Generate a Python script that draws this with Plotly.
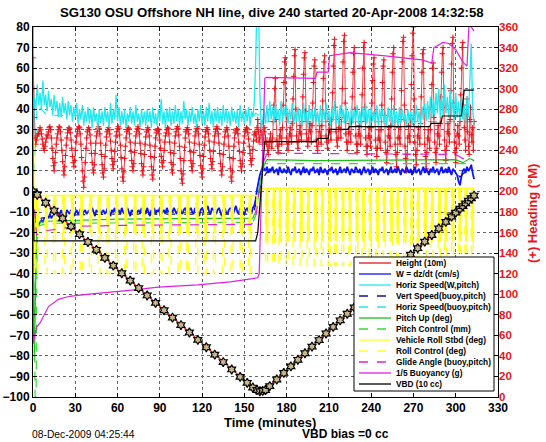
import plotly.graph_objects as go

# ---------------- text ----------------
title_text = "SG130 OSU Offshore NH line, dive 240 started 20-Apr-2008 14:32:58"
xlabel_text = "Time (minutes)"
right_label_text = "(+) Heading (°M)"
date_text = "08-Dec-2009 04:25:44"
bias_text = "VBD bias =0 cc"
x_ticks = [0, 30, 60, 90, 120, 150, 180, 210, 240, 270, 300, 330]

# ---------------- data ----------------
# 1-minute samples
t_min = list(range(0, 314))
horiz_speed_w = [
    18, 46, 40, 52, 42, 48, 40, 54, 42, 47,
    39, 49, 41, 45, 37, 47, 39, 44, 36, 43,
    36, 46, 38, 43, 35, 44, 37, 42, 34, 41,
    36, 43, 33, 40, 35, 42, 32, 39, 34, 41,
    33, 40, 31, 41, 34, 38, 30, 40, 33, 39,
    32, 41, 34, 39, 31, 43, 33, 40, 35, 47,
    34, 41, 32, 39, 33, 40, 31, 38, 34, 41,
    33, 39, 32, 42, 34, 38, 31, 40, 33, 39,
    32, 40, 34, 39, 31, 41, 33, 38, 32, 40,
    34, 45, 33, 39, 31, 40, 34, 41, 32, 39,
    33, 42, 34, 40, 32, 39, 33, 44, 35, 40,
    32, 39, 34, 41, 33, 38, 31, 40, 34, 42,
    33, 39, 32, 41, 34, 43, 33, 39, 31, 40,
    34, 41, 33, 39, 32, 42, 34, 40, 33, 39,
    32, 41, 34, 39, 33, 40, 31, 42, 34, 39,
    33, 40, 34, 41, 32, 39, 36, 43, 62, 95,
    95, 48, 30, 34, 40, 33, 42, 34, 44, 35,
    41, 33, 43, 35, 40, 32, 44, 34, 41, 36,
    42, 33, 40, 35, 43, 32, 39, 34, 41, 33,
    40, 32, 43, 34, 39, 31, 42, 35, 40, 33,
    41, 34, 39, 32, 42, 33, 40, 35, 43, 34,
    39, 32, 41, 34, 44, 33, 40, 32, 42, 35,
    40, 33, 42, 34, 39, 31, 41, 33, 40, 34,
    42, 33, 39, 32, 41, 34, 43, 33, 40, 32,
    41, 34, 39, 33, 42, 32, 40, 35, 41, 33,
    39, 31, 41, 34, 40, 32, 42, 33, 39, 31,
    41, 33, 40, 34, 38, 31, 40, 33, 39, 32,
    40, 33, 42, 34, 39, 32, 41, 35, 43, 34,
    44, 35, 46, 36, 45, 37, 48, 38, 50, 36,
    47, 37, 52, 38, 46, 36, 50, 37, 45, 35,
    48, 36, 44, 34, 46, 35, 42, 33, 46, 36,
    55, 72, 40, 32,
]
w_dzdt = [
    0, -12, -18, -17, -16, -15, -14, -15, -13, -14,
    -12, -13, -11, -13, -12, -11, -12, -10, -12, -11,
    -9, -11, -10, -12, -9, -10, -11, -9, -10, -12,
    -10, -9, -11, -10, -8, -11, -10, -9, -11, -10,
    -9, -11, -8, -10, -12, -9, -10, -8, -11, -10,
    -9, -11, -10, -8, -10, -12, -9, -10, -8, -11,
    -10, -9, -11, -8, -10, -11, -9, -8, -10, -12,
    -9, -10, -8, -11, -10, -9, -11, -8, -10, -9,
    -11, -8, -10, -12, -9, -10, -8, -11, -9, -10,
    -8, -11, -10, -9, -11, -8, -10, -12, -9, -10,
    -8, -10, -11, -9, -7, -10, -11, -9, -8, -10,
    -11, -9, -8, -10, -11, -8, -9, -10, -12, -9,
    -8, -10, -11, -9, -7, -10, -11, -8, -9, -10,
    -11, -9, -8, -10, -12, -9, -8, -10, -11, -9,
    -8, -10, -11, -9, -7, -10, -11, -8, -9, -10,
    -11, -9, -8, -10, -9, -11, -8, -7, -4, 1,
    5, 8, 10, 12, 11, 10, 12, 9, 11, 10,
    12, 9, 10, 11, 8, 12, 10, 9, 11, 10,
    9, 12, 10, 8, 11, 10, 12, 9, 10, 11,
    8, 10, 12, 9, 11, 10, 8, 11, 10, 12,
    9, 10, 11, 8, 12, 10, 9, 11, 10, 8,
    11, 10, 12, 9, 10, 11, 8, 10, 12, 9,
    10, 11, 9, 12, 10, 8, 11, 10, 9, 12,
    10, 9, 11, 8, 10, 12, 9, 10, 11, 8,
    10, 12, 9, 11, 10, 8, 11, 10, 12, 9,
    10, 11, 8, 10, 12, 9, 10, 11, 9, 12,
    10, 8, 11, 10, 9, 12, 10, 9, 11, 8,
    10, 12, 9, 10, 11, 8, 10, 12, 9, 11,
    10, 8, 11, 10, 12, 9, 10, 11, 8, 10,
    12, 9, 10, 11, 9, 12, 10, 8, 11, 10,
    9, 8, 5, 3, 7, 10, 11, 9, 12, 10,
    11, 13, 9, 6,
]

# heading (deg M), sampled every half minute
heading_dt = 0.5
heading_start = [330, 300, 272, 252, 246, 250, 254, 256]
heading_descent = [
    256, 260, 262, 260, 256, 251, 246, 242, 240, 244, 248, 252, 255, 254,
    258, 262, 263, 260, 252, 242, 232, 225, 220, 228, 238, 246, 252, 256,
    260, 263, 262, 258, 250, 240, 229, 220, 216, 224, 235, 245, 252, 257,
    260, 262, 261, 257, 250, 242, 234, 228, 224, 230, 240, 248, 254, 258,
    261, 263, 262, 256, 246, 233, 220, 210, 204, 214, 228, 242, 252, 258,
    260, 262, 260, 255, 247, 237, 228, 221, 218, 226, 237, 247, 254, 258,
    261, 263, 261, 256, 247, 236, 226, 218, 214, 222, 234, 245, 253, 258,
    260, 262, 260, 256, 249, 240, 232, 226, 222, 229, 239, 248, 254, 258,
    261, 263, 261, 255, 245, 233, 222, 214, 210, 219, 232, 244, 252, 258,
    260, 262, 261, 256, 248, 239, 230, 224, 220, 227, 238, 247, 254, 258,
    261, 263, 261, 256, 247, 237, 227, 220, 216, 224, 236, 246, 253, 258,
    260, 262, 260, 254, 245, 234, 224, 216, 212, 221, 233, 244, 252, 257,
    259, 261, 260, 256, 250, 242, 234, 228, 224, 230, 240, 248, 254, 257,
    260, 262, 261, 256, 248, 238, 228, 221, 218, 226, 237, 247, 254, 258,
    261, 263, 261, 255, 244, 232, 220, 212, 208, 217, 230, 243, 252, 258,
    260, 262, 260, 256, 248, 239, 230, 224, 220, 227, 238, 247, 254, 258,
    261, 263, 261, 256, 246, 235, 225, 218, 214, 222, 234, 245, 253, 258,
    260, 262, 260, 256, 249, 240, 232, 226, 222, 229, 239, 248, 254, 258,
    261, 263, 261, 256, 247, 237, 227, 220, 216, 224, 236, 246, 253, 258,
    260, 262, 260, 254, 244, 233, 222, 214, 210, 219, 232, 244, 252, 257,
    259, 261, 260, 256, 248, 239, 230, 224, 220, 227, 238, 247, 254, 258,
    260, 262, 261, 257, 251, 244, 237, 230, 226, 232, 241, 249, 255, 258,
]
heading_bottom = [256, 250, 262, 270, 258, 248, 252, 260, 266, 255, 246, 250, 258, 262, 252, 248]
heading_ascent = [
    246, 240, 236, 244, 250, 256, 248, 242, 252, 268, 284, 300, 310, 270,
    250, 244, 238, 246, 254, 260, 252, 246, 262, 284, 306, 326, 330, 276,
    252, 246, 240, 248, 256, 262, 254, 248, 266, 290, 312, 332, 338, 280,
    254, 248, 242, 250, 258, 264, 256, 250, 268, 292, 314, 330, 335, 278,
    256, 250, 244, 252, 260, 266, 258, 248, 264, 286, 306, 322, 328, 274,
    250, 244, 240, 248, 258, 264, 254, 246, 264, 288, 310, 326, 332, 276,
    254, 248, 242, 250, 260, 268, 258, 250, 270, 296, 322, 342, 348, 282,
    258, 250, 244, 252, 262, 270, 260, 252, 272, 300, 326, 346, 352, 286,
    256, 248, 240, 248, 258, 266, 256, 248, 268, 292, 316, 334, 340, 280,
    254, 246, 238, 246, 256, 264, 254, 246, 268, 294, 320, 340, 345, 282,
    252, 244, 236, 244, 254, 262, 252, 244, 262, 286, 308, 324, 330, 276,
    250, 242, 234, 242, 252, 260, 250, 242, 260, 284, 306, 322, 328, 274,
    248, 238, 228, 240, 254, 262, 252, 244, 264, 290, 316, 334, 340, 280,
    246, 236, 224, 238, 252, 262, 252, 246, 270, 298, 326, 346, 350, 284,
    244, 232, 220, 236, 252, 264, 254, 248, 274, 304, 332, 354, 360, 290,
    248, 236, 226, 240, 254, 262, 252, 246, 266, 292, 316, 334, 338, 280,
    246, 234, 222, 238, 252, 260, 250, 242, 260, 282, 304, 320, 325, 272,
    248, 238, 228, 242, 256, 264, 254, 246, 266, 292, 316, 334, 340, 282,
    250, 240, 230, 244, 258, 266, 256, 248, 270, 298, 324, 344, 350, 286,
    248, 238, 228, 242, 256, 264, 254, 246, 268, 294, 320, 340, 345, 284,
]
heading_end = [262, 250, 240, 275, 290, 258, 244, 236, 270, 282, 255, 248, 262, 240, 268]
heading = heading_start + heading_descent + heading_bottom + heading_ascent + heading_end
heading_t = [i * heading_dt for i in range(len(heading))]

# Height (10 m)
height_t = [0, 2, 60, 120, 150, 157, 162, 166, 313]
height_10m = [0, -1, -38, -74, -92, -96, -97.5, -96, -2]
fix_t = [0, 3, 9, 15, 21, 27, 33, 39, 45, 51, 57, 63, 69, 75, 81, 87, 93, 99, 105, 111,
         117, 123, 129, 135, 141, 147, 152, 156, 159, 161, 163, 165, 168, 173, 178, 183,
         188, 193, 198, 203, 208, 213, 218, 223, 228, 233, 238, 243, 248, 253, 258, 263,
         268, 273, 278, 283, 288, 293, 297, 300, 303, 305, 307, 309, 311, 313]
fix_h = [0, -1.6, -5.5, -9.3, -13.1, -17, -20.8, -24.6, -28.4, -32.3, -36.1, -39.8, -43.4,
         -47, -50.6, -54.2, -57.8, -61.4, -65, -68.6, -72.2, -75.8, -79.4, -83, -86.6, -90.2,
         -93.1, -95.4, -96.6, -97.2, -97, -96.6, -94.7, -91.5, -88.3, -85.1, -81.9, -78.7,
         -75.5, -72.3, -69.1, -65.9, -62.7, -59.5, -56.4, -53.2, -50, -46.8, -43.6, -40.4,
         -37.2, -34, -30.8, -27.6, -24.4, -21.2, -18, -14.8, -12.2, -10.3, -8.4, -7.1, -5.8,
         -4.5, -3.3, -2]

# Vert Speed (buoy,pitch)
vsb_t = [0, 1, 3, 6, 20, 60, 155, 157, 160, 163, 166, 300, 303, 306, 313]
vsb_v = [0, -8, -15, -13, -11.5, -11, -11, -9, -2, 6, 9.5, 9.5, 7, 9, 9]
# Horiz Speed (buoy,pitch)
hsb_t = [0, 3, 10, 155, 158, 163, 166, 313]
hsb_v = [0, 42, 37, 36, 38, 36, 34, 34]
# Pitch up (deg)
pitch_t = [0, 0.5, 1, 1.5, 2.5, 4, 10, 60, 156, 158, 161, 164, 166, 200, 300, 305, 310, 313]
pitch_v = [0, -60, -82, -60, -20, -15, -14.5, -13.5, -13, -10, 4, 13, 15.5, 15, 15.5, 14, 16, 15]
# Pitch control (mm)
pctl_t = [0, 0.5, 1.5, 2.2, 3, 10, 156, 158, 161, 164, 313]
pctl_v = [0, -50, -100, -100, -17, -15.5, -15, -12, 3, 13.5, 13.5]
# Vehicle roll (deg), step samples
roll_t = [0, 0.5, 1,
          2.5, 3.5, 9, 10, 15, 16, 21.5, 22.5, 27.5, 28.5, 34, 35, 40.5, 41.5, 46.5, 47.5,
          53, 54, 59, 60, 65.5, 66.5, 72, 73, 78, 79, 84.5, 85.5, 90.5, 91.5, 97, 98,
          103.5, 104.5, 109.5, 110.5, 116, 117, 122, 123, 128.5, 129.5, 135, 136,
          141, 142, 147.5, 148.5, 153.5, 154.5,
          159, 162,
          165.5, 166.5, 170.5, 171.5, 175, 176, 180, 181, 185, 186, 190, 191, 195, 196, 200, 201,
          205, 206, 210, 211, 214.5, 215.5, 219.5, 220.5, 224.5, 225.5, 229.5, 230.5, 234, 235,
          239, 240, 244, 245, 249, 250, 254, 255, 258.5, 259.5, 263.5, 264.5, 268.5, 269.5,
          273, 274, 278, 279, 283, 284, 288, 289, 292.5, 293.5, 297.5, 298.5, 302.5, 303.5,
          307, 308, 311.5, 312.5, 313]
roll_deg = [25, -35, -2,
            -20, -2, -20, -2, -20, -2, -20, -2, -20, -2, -20, -2, -20, -2, -20, -2,
            -20, -2, -20, -2, -20, -2, -20, -2, -20, -2, -20, -2, -20, -2, -20, -2,
            -20, -2, -20, -2, -20, -2, -20, -2, -20, -2, -20, -2,
            -20, -2, -20, -2, -20, -2,
            -10, 1.5,
            -24, 1.5, -24, 1.5, -24, 1.5, -24, 1.5, -24, 1.5, -24, 1.5, -24, 1.5, -24, 1.5,
            -24, 1.5, -24, 1.5, -24, 1.5, -24, 1.5, -24, 1.5, -24, 1.5, -24, 1.5,
            -24, 1.5, -24, 1.5, -24, 1.5, -24, 1.5, -24, 1.5, -24, 1.5, -24, 1.5,
            -24, 1.5, -24, 1.5, -24, 1.5, -24, 1.5, -24, 1.5, -24, 1.5, -24, 1.5,
            -24, 1.5, -24, 1.5, 1.5]
# Roll control (deg), step samples
rollc_t = [0, 0.3, 1,
           2, 3.5, 8.5, 10, 14.5, 16, 21, 22.5, 27, 28.5, 33.5, 35, 40, 41.5, 46, 47.5,
           52.5, 54, 58.5, 60, 65, 66.5, 71.5, 73, 77.5, 79, 84, 85.5, 90, 91.5, 96.5, 98,
           103, 104.5, 109, 110.5, 115.5, 117, 121.5, 123, 128, 129.5, 134.5, 136,
           140.5, 142, 147, 148.5, 153, 154.5,
           159, 162,
           165, 166.5, 170, 171.5, 174.5, 176, 179.5, 181, 184.5, 186, 189.5, 191, 194.5, 196,
           199.5, 201, 204.5, 206, 209.5, 211, 214, 215.5, 219, 220.5, 224, 225.5, 229, 230.5,
           233.5, 235, 238.5, 240, 243.5, 245, 248.5, 250, 253.5, 255, 258, 259.5, 263, 264.5,
           268, 269.5, 272.5, 274, 277.5, 279, 282.5, 284, 287.5, 289, 292, 293.5, 297, 298.5,
           302, 303.5, 306.5, 308, 311, 312.5, 313]
rollc_deg = [30, -40, -2,
             -40, -2, -40, -2, -40, -2, -40, -2, -40, -2, -40, -2, -40, -2, -40, -2,
             -40, -2, -40, -2, -40, -2, -40, -2, -40, -2, -40, -2, -40, -2, -40, -2,
             -40, -2, -40, -2, -40, -2, -40, -2, -40, -2, -40, -2,
             -40, -2, -40, -2, -40, -2,
             -10, 1.5,
             -36, 1.5, -36, 1.5, -36, 1.5, -36, 1.5, -36, 1.5, -36, 1.5, -36, 1.5, -36, 1.5,
             -36, 1.5, -36, 1.5, -36, 1.5, -36, 1.5, -36, 1.5, -36, 1.5, -36, 1.5,
             -36, 1.5, -36, 1.5, -36, 1.5, -36, 1.5, -36, 1.5, -36, 1.5, -36, 1.5,
             -36, 1.5, -36, 1.5, -36, 1.5, -36, 1.5, -36, 1.5, -36, 1.5, -36, 1.5,
             -36, 1.5, -36, 1.5, 1.5]
# Glide angle (buoy,pitch)
glide_t = [0, 1, 2.5, 5, 10, 30, 60, 155, 158, 161, 164, 166, 200, 300, 305, 310, 313]
glide_v = [0, -10, -21, -20.5, -19, -17, -16.5, -16, -13, 2, 15, 18.5, 18.5, 18, 16, 15.5, 15]
# 1/5 Buoyancy (g)
buoy_t = [0, 0.3, 1.2, 2.6, 5, 8, 11, 18, 26, 40, 57, 70, 89, 117, 140, 159.5, 160.5, 164.5,
          165.5, 200.5, 201.5, 209.5, 210.5, 225, 250, 276, 283, 284.5, 291, 295, 300, 305,
          308, 310, 311, 313]
buoy_v = [85, -74, -70, -66, -64, -60, -56, -52.5, -51, -50, -49, -48, -46.5, -45.5, -44,
          -42, -40, 55, 55.5, 55, 58, 58, 66, 67.5, 66, 64, 62.5, 70, 72.5, 72, 69, 63,
          61, 90, 80, 78]
# VBD (10 cc)
vbd_t = [0, 0.7, 158, 159.5, 164.5, 201, 202, 209.5, 210.5, 223.5, 224.5, 281.5, 282.5,
         289.5, 290.5, 304, 306, 313]
vbd_v = [0, -24, -24, -20, 24.2, 24.2, 25.8, 25.8, 30.2, 30.2, 31.5, 31.5, 33.1, 33.1,
         36.7, 36.7, 49.3, 49.3]

# ---------------- styling ----------------
FONT = "Liberation Sans, Arial, Helvetica, sans-serif"
RED = "#e8141a"
BLUE = "#0a14ff"
NAVY = "#14148c"
CYAN = "#22e8f0"
GREEN = "#18c018"
LGREEN = "#3ad83a"
YELLOW = "#ffff26"
MAGENTA = "#dd22dd"

W, H = 546, 442
ML, MR, MT, MB = 33, 48, 27, 45
PW, PH = W - ML - MR, H - MT - MB


def px(x):
    return (x - ML) / PW


def py(y):
    return (H - MB - y) / PH


fig = go.Figure()


def add_line(x, y, color, dash="solid", width=1.2, axis="y3", shape="linear"):
    fig.add_trace(go.Scatter(x=x, y=y, mode="lines", yaxis=axis,
                             line=dict(color=color, width=width, dash=dash, shape=shape),
                             showlegend=False, hoverinfo="skip"))


# primary (left) axis layer: drawn beneath the heading layer
add_line(hsb_t, hsb_v, CYAN, dash="dash", axis="y")

# heading (right axis, y2)
fig.add_trace(go.Scatter(x=heading_t, y=heading, mode="lines+markers", yaxis="y2",
                         line=dict(color=RED, width=0.8),
                         marker=dict(symbol="cross-thin", size=4,
                                     line=dict(width=1, color=RED)),
                         showlegend=False, hoverinfo="skip"))

# y3 layer (same scale as left axis) drawn above the heading
add_line(t_min, horiz_speed_w, CYAN, width=1.3)
add_line(t_min, w_dzdt, BLUE, width=1.8)
add_line(vsb_t, vsb_v, NAVY, dash="dash")
add_line(pitch_t, pitch_v, GREEN)
add_line(pctl_t, pctl_v, LGREEN, dash="dash")
add_line(rollc_t, rollc_deg, YELLOW, dash="dash", width=1.4, shape="hv")
add_line(roll_t, roll_deg, YELLOW, width=1.5, shape="hv")
add_line(glide_t, glide_v, MAGENTA, dash="dash")
add_line(buoy_t, buoy_v, MAGENTA)
add_line(vbd_t, vbd_v, "black")
add_line(height_t, height_10m, RED, width=1.2)
fig.add_trace(go.Scatter(x=fix_t, y=fix_h, mode="markers", yaxis="y3",
                         marker=dict(symbol="hexagram", size=7, color="#c8b888",
                                     line=dict(width=1.2, color="black")),
                         showlegend=False, hoverinfo="skip"))

tickfont = dict(family=FONT, size=12, color="black", weight="bold")
fig.update_layout(
    width=W, height=H,
    margin=dict(l=ML, r=MR, t=MT, b=MB, autoexpand=False),
    paper_bgcolor="white", plot_bgcolor="white",
    showlegend=False,
    xaxis=dict(range=[0, 330], tickvals=x_ticks, ticks="inside", ticklen=4,
               tickcolor="black", showline=True, linecolor="black", linewidth=1,
               mirror="ticks", showgrid=True, gridcolor="#666", griddash="dot",
               gridwidth=1, zeroline=False, tickfont=tickfont, automargin=False),
    yaxis=dict(range=[-100, 80], dtick=10, ticks="inside", ticklen=4,
               tickcolor="black", showline=True, linecolor="black", linewidth=1,
               mirror="ticks", showgrid=True, gridcolor="#666", griddash="dot",
               gridwidth=1, zeroline=False, tickfont=tickfont, automargin=False),
    yaxis2=dict(range=[0, 360], dtick=20, overlaying="y", side="right",
                showgrid=False, zeroline=False, ticks="", automargin=False,
                tickfont=dict(family=FONT, size=11.5, color=RED, weight="bold")),
    yaxis3=dict(range=[-100, 80], overlaying="y", visible=False),
)

annotations = [
    dict(text=title_text, x=px(272), y=py(13), xref="paper", yref="paper",
         showarrow=False, xanchor="center", yanchor="middle",
         font=dict(family=FONT, size=13.2, color="black", weight="bold")),
    dict(text=xlabel_text, x=px(270), y=py(422), xref="paper", yref="paper",
         showarrow=False, xanchor="center", yanchor="middle",
         font=dict(family=FONT, size=13, color="black", weight="bold")),
    dict(text=date_text, x=px(30), y=py(434), xref="paper", yref="paper",
         showarrow=False, xanchor="left", yanchor="middle",
         font=dict(family=FONT, size=10.3, color="black")),
    dict(text=bias_text, x=px(300), y=py(434), xref="paper", yref="paper",
         showarrow=False, xanchor="left", yanchor="middle",
         font=dict(family=FONT, size=12, color="black", weight="bold")),
    dict(text=right_label_text, x=px(533), y=py(214), xref="paper", yref="paper",
         showarrow=False, xanchor="center", yanchor="middle", textangle=-90,
         font=dict(family=FONT, size=13, color=RED, weight="bold")),
]

legend_items = [
    ("Height (10m)", RED, "solid"),
    ("W = dz/dt (cm/s)", BLUE, "solid"),
    ("Horiz Speed(W,pitch)", CYAN, "solid"),
    ("Vert Speed(buoy,pitch)", NAVY, "dash"),
    ("Horiz Speed(buoy,pitch)", CYAN, "dash"),
    ("Pitch Up (deg)", GREEN, "solid"),
    ("Pitch Control (mm)", LGREEN, "dash"),
    ("Vehicle Roll Stbd (deg)", YELLOW, "solid"),
    ("Roll Control (deg)", YELLOW, "dash"),
    ("Glide Angle (buoy,pitch)", MAGENTA, "dash"),
    ("1/5 Buoyancy (g)", MAGENTA, "solid"),
    ("VBD (10 cc)", "black", "solid"),
]
shapes = [dict(type="rect", xref="paper", yref="paper", x0=px(354), x1=px(494),
               y0=py(391), y1=py(257), fillcolor="white",
               line=dict(color="black", width=1), layer="above")]
for i, (label, color, dash) in enumerate(legend_items):
    yy = 263 + 11 * i
    shapes.append(dict(type="line", xref="paper", yref="paper", x0=px(359), x1=px(391),
                       y0=py(yy), y1=py(yy), line=dict(color=color, width=1.3, dash=dash),
                       layer="above"))
    annotations.append(dict(text=label, x=px(394), y=py(yy), xref="paper", yref="paper",
                            showarrow=False, xanchor="left", yanchor="middle",
                            font=dict(family=FONT, size=8.3, color="black", weight="bold")))

fig.update_layout(annotations=annotations, shapes=shapes)
fig.write_html("out.html",
               config={"displayModeBar": False},
               post_script="document.body.style.margin='0';document.body.style.overflow='hidden';")
